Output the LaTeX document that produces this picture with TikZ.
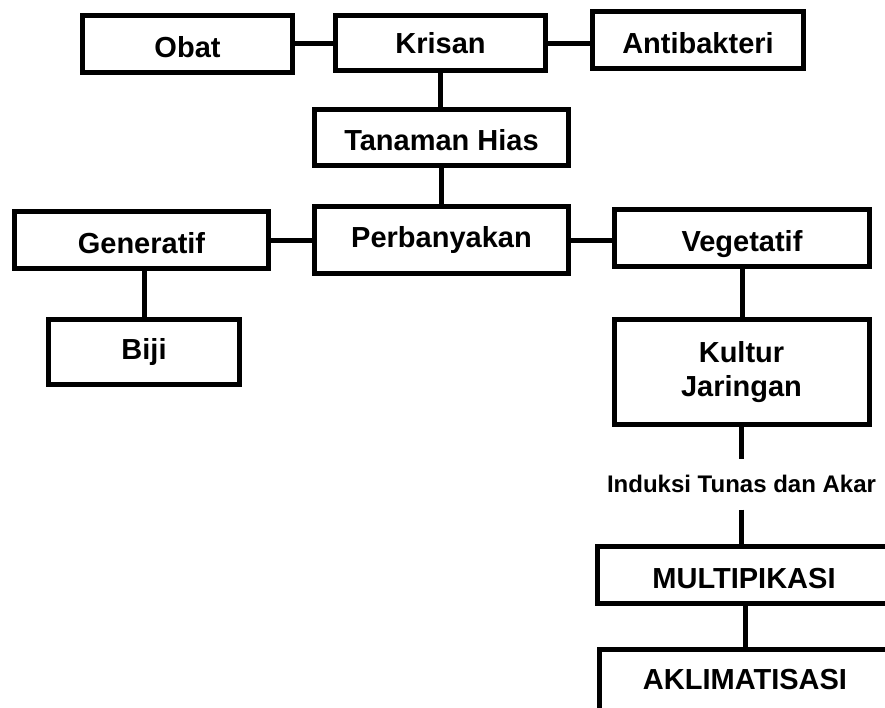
\documentclass[tikz,border=0pt]{standalone}
\usepackage{fontspec}
\setmainfont{Liberation Sans}
\begin{document}
\begin{tikzpicture}[x=1pt,y=-1pt,line width=5pt,
    kotak/.style={draw,inner sep=0pt,font=\fontsize{29}{34}\selectfont\bfseries,align=center},
    turun/.style={text height=26pt,text depth=0pt},
    ket/.style={inner sep=0pt,minimum height=46pt,font=\fontsize{24}{28}\selectfont\bfseries}]
  \useasboundingbox (0,0) rectangle (885,707);
  \node[kotak,turun,minimum width=210pt,minimum height=57pt](obat) at (187.5,44){Obat};
  \node[kotak,minimum width=210pt,minimum height=55pt](krisan) at (440.5,43){Krisan};
  \node[kotak,turun,minimum width=211pt,minimum height=57pt](anti) at (698,40){Antibakteri};
  \node[kotak,turun,minimum width=254pt,minimum height=56pt](hias) at (441.5,137.5){Tanaman Hias};
  \node[kotak,minimum width=254pt,minimum height=67pt](perb) at (441.5,240){Perbanyakan};
  \node[kotak,turun,minimum width=254pt,minimum height=57pt](gen) at (141.5,240){Generatif};
  \node[kotak,minimum width=191pt,minimum height=65pt](biji) at (144,351.5){Biji};
  \node[kotak,turun,minimum width=255pt,minimum height=57pt](veg) at (742,238){Vegetatif};
  \node[kotak,minimum width=255pt,minimum height=105pt](kultur) at (741.5,372){Kultur\\Jaringan};
  \node[ket](induksi) at (741.5,484){Induksi Tunas dan Akar};
  \node[kotak,turun,minimum width=293pt,minimum height=57pt](multi) at (744,575){MULTIPIKASI};
  \node[kotak,minimum width=291pt,minimum height=61pt](akli) at (745,680){AKLIMATISASI};
  \draw (krisan.west) -- (krisan.west -| obat.east)
        (krisan.east) -- (krisan.east -| anti.west)
        (krisan.south) -- (krisan.south |- hias.north)
        (hias.south) -- (hias.south |- perb.north)
        (perb.west) -- (perb.west -| gen.east)
        (perb.east) -- (perb.east -| veg.west)
        (biji.north) -- (biji.north |- gen.south)
        (veg.south) -- (veg.south |- kultur.north)
        (kultur.south) -- (induksi.north)
        (induksi.south) -- (induksi.south |- multi.north)
        (akli.north) -- (akli.north |- multi.south);
\end{tikzpicture}
\end{document}
